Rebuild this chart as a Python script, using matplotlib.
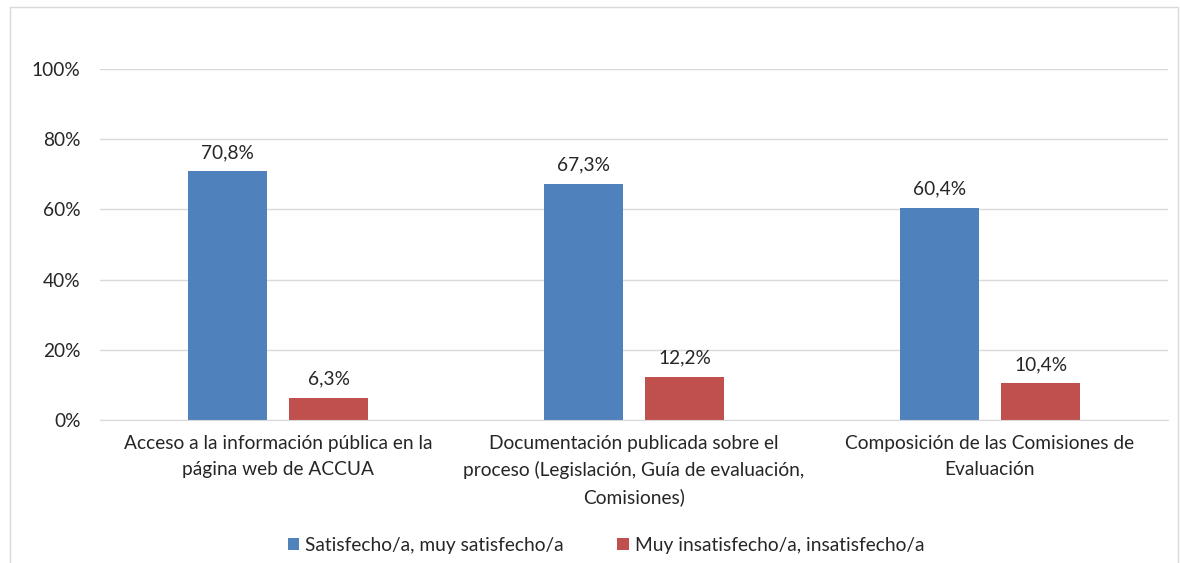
import matplotlib.pyplot as plt
from matplotlib.patches import Rectangle

categories = [
    "Acceso a la información pública en la\npágina web de ACCUA",
    "Documentación publicada sobre el\nproceso (Legislación, Guía de evaluación,\nComisiones)",
    "Composición de las Comisiones de\nEvaluación",
]
satisfecho = [70.8, 67.3, 60.4]
insatisfecho = [6.3, 12.2, 10.4]
series_names = ["Satisfecho/a, muy satisfecho/a", "Muy insatisfecho/a, insatisfecho/a"]

plt.rcParams['font.family'] = ['Lato', 'DejaVu Sans']
fs = 13.8

fig = plt.figure(figsize=(11.8, 5.63), dpi=100)
fig.patches.append(Rectangle((10 / 1180, -0.01), 1168 / 1180, 1 - 7 / 563 + 0.01,
                             transform=fig.transFigure, fill=False,
                             edgecolor='#d9d9d9', linewidth=1))
ax = fig.add_axes([100 / 1180, 1 - 420 / 563, 1068 / 1180, 351 / 563])

x = range(len(categories))
w = 0.222
off = 0.143
b1 = ax.bar([i - off for i in x], satisfecho, w, color='#4F81BD', label=series_names[0])
b2 = ax.bar([i + off for i in x], insatisfecho, w, color='#C0504D', label=series_names[1])

for bars, vals in ((b1, satisfecho), (b2, insatisfecho)):
    for b, v in zip(bars, vals):
        ax.text(b.get_x() + b.get_width() / 2, v + 3, f"{v:.1f}%".replace('.', ','),
                ha='center', va='bottom', fontsize=fs, color='#262626')

ax.set_xlim(-0.5, 2.5)
ax.set_ylim(0, 100)
ax.set_yticks(range(0, 101, 20))
ax.set_yticklabels([f"{t}%" for t in range(0, 101, 20)], fontsize=fs, color='#262626')
ax.set_xticks(list(x))
ax.set_xticklabels(categories, fontsize=fs, color='#262626', linespacing=1.6)
ax.tick_params(length=0)
ax.tick_params(axis='y', pad=14)
ax.tick_params(axis='x', pad=11)
ax.grid(axis='y', color='#d9d9d9', linewidth=1)
ax.set_axisbelow(True)
for s in ['top', 'right', 'left']:
    ax.spines[s].set_visible(False)
ax.spines['bottom'].set_color('#d9d9d9')

fig.legend(handles=[b1, b2], loc='center', bbox_to_anchor=(606 / 1180, 1 - 545 / 563),
           ncol=2, frameon=False, fontsize=fs, handlelength=0.6, handleheight=0.6,
           columnspacing=2.8, handletextpad=0.3, labelcolor='#262626')

fig.savefig('out.png', dpi=100)
